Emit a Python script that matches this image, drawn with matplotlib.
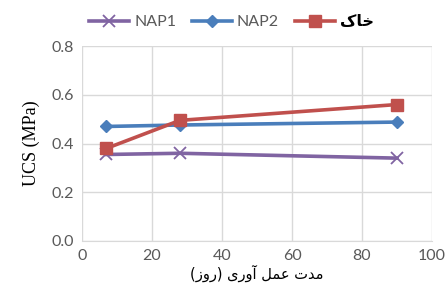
import matplotlib
matplotlib.use("Agg")
from matplotlib import pyplot as plt

days = [7, 28, 90]
nap1 = [0.355, 0.36, 0.34]
nap2 = [0.47, 0.476, 0.488]
soil = [0.38, 0.495, 0.56]

# Arabic text pre-shaped (presentation forms) in visual order
soil_label = "\uFB8E\uFE8E\uFEA7"
xlabel = "(\uFEAF\uFEED\uFEAD) \uFEEF\uFEAD\uFEED\uFE81 \uFEDE\uFEE4\uFECB \uFE95\uFEAA\uFEE3"

tick_font = "Lato"
gray = "#595959"

fig = plt.figure(figsize=(4.45, 2.99), dpi=100)
ax = fig.add_axes([0.184, 0.194, 0.787, 0.652])

ax.plot(days, nap1, color="#8064a2", lw=2.6, marker="x", ms=8, mew=1.3, label="NAP1")
ax.plot(days, nap2, color="#4a7ebb", lw=2.6, marker="D", ms=6, label="NAP2")
ax.plot(days, soil, color="#c0504d", lw=2.6, marker="s", ms=8, label=soil_label)

ax.set_xlim(0, 100)
ax.set_ylim(0, 0.8)
ax.set_xticks(range(0, 101, 20))
ax.set_yticks([0, 0.2, 0.4, 0.6, 0.8])
ax.set_yticklabels(["0.0", "0.2", "0.4", "0.6", "0.8"])
ax.grid(True, color="#d9d9d9", lw=1)
ax.set_axisbelow(True)
for s in ["top", "right", "left"]:
    ax.spines[s].set_visible(False)
ax.spines["bottom"].set_color("#d9d9d9")
ax.tick_params(length=0, pad=6, labelsize=11.5, labelcolor=gray)
for t in ax.get_xticklabels() + ax.get_yticklabels():
    t.set_fontfamily(tick_font)

ax.set_ylabel("UCS (MPa)", family="Liberation Serif", fontsize=13, labelpad=8)
ax.set_xlabel(xlabel, family="DejaVu Sans", fontsize=10.5, labelpad=1)

leg = fig.legend(loc="upper center", bbox_to_anchor=(0.52, 1.0), ncol=3,
                 frameon=False, handlelength=2.5, columnspacing=1.0, handletextpad=0.3,
                 prop={"family": tick_font, "size": 11.5})
for i, t in enumerate(leg.get_texts()):
    if i < 2:
        t.set_color(gray)
    else:
        t.set_family("DejaVu Sans")
        t.set_fontweight("bold")
        t.set_color("black")

fig.savefig("out.png", dpi=100)
